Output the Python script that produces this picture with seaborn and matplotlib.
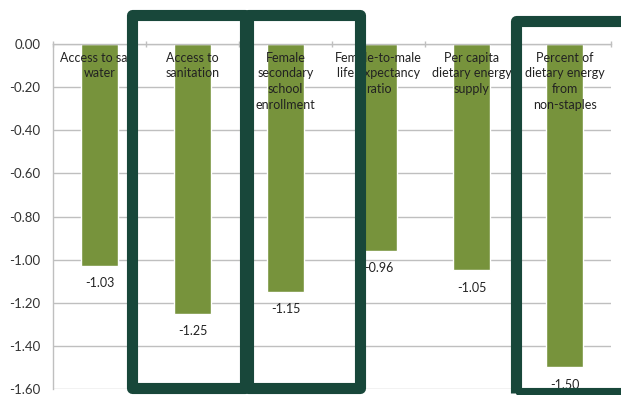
import matplotlib
matplotlib.use("Agg")
import matplotlib.pyplot as plt
import seaborn as sns
from matplotlib.patches import Rectangle
from matplotlib.ticker import FormatStrFormatter

# data
categories = [
    "Access to safe\nwater",
    "Access to\nsanitation",
    "Female\nsecondary\nschool\nenrollment",
    "Female-to-male\nlife expectancy\nratio",
    "Per capita\ndietary energy\nsupply",
    "Percent of\ndietary energy\nfrom\nnon-staples",
]
values = [-1.03, -1.25, -1.15, -0.96, -1.05, -1.50]
yticks = [0.0, -0.2, -0.4, -0.6, -0.8, -1.0, -1.2, -1.4, -1.6]

BAR = "#77933c"
GRID = "#bfbfbf"
BOX = "#18473a"

sns.set_style("white")
plt.rcParams["font.family"] = ["Lato", "DejaVu Sans"]

fig = plt.figure(figsize=(6.21, 3.95), dpi=100)
ax = fig.add_axes([53 / 621, 1 - 389 / 395, (611 - 53) / 621, (389 - 44) / 395])

sns.barplot(x=list(range(len(values))), y=values, color=BAR, width=0.39,
            saturation=1, ax=ax, zorder=2)

ax.set_ylim(-1.6, 0)
ax.set_xlim(-0.5, len(values) - 0.5)
ax.set_yticks(yticks)
ax.yaxis.set_major_formatter(FormatStrFormatter("%.2f"))
ax.tick_params(axis="y", length=0, pad=9, labelsize=9.5, labelcolor="#333333")
ax.grid(axis="y", color=GRID, lw=1, zorder=0)
ax.set_axisbelow(True)

# category boundary ticks on the zero line
ax.xaxis.set_ticks_position("top")
ax.set_xticks([i - 0.5 for i in range(len(values) + 1)])
ax.set_xticklabels([])
ax.tick_params(axis="x", direction="inout", length=4, color=GRID, width=1)
ax.set_xlabel("")
ax.set_ylabel("")

for s in ["right", "bottom"]:
    ax.spines[s].set_visible(False)
for s in ["left", "top"]:
    ax.spines[s].set_color(GRID)
    ax.spines[s].set_linewidth(1)

# category names sit inside the plot under the zero line
for i, name in enumerate(categories):
    ax.annotate(name, xy=(i, 0), xytext=(0, -5.5), textcoords="offset points",
                ha="center", va="top", fontsize=9, color="#222222",
                linespacing=1.38, zorder=4)

ax.bar_label(ax.containers[0], fmt="%.2f", padding=8, fontsize=9, color="#222222")

# dark highlight frames drawn over the chart (pixel boxes: x0, y0, x1, y1)
frames = [(132, 15, 245, 388), (248, 15, 359.5, 387.5), (516, 20.5, 640, 392.5)]
for x0, y0, x1, y1 in frames:
    fig.add_artist(Rectangle((x0 / 621, 1 - y1 / 395), (x1 - x0) / 621, (y1 - y0) / 395,
                             transform=fig.transFigure, fill=False, ec=BOX, lw=8,
                             joinstyle="round", zorder=10))

fig.savefig("out.png", dpi=100)
